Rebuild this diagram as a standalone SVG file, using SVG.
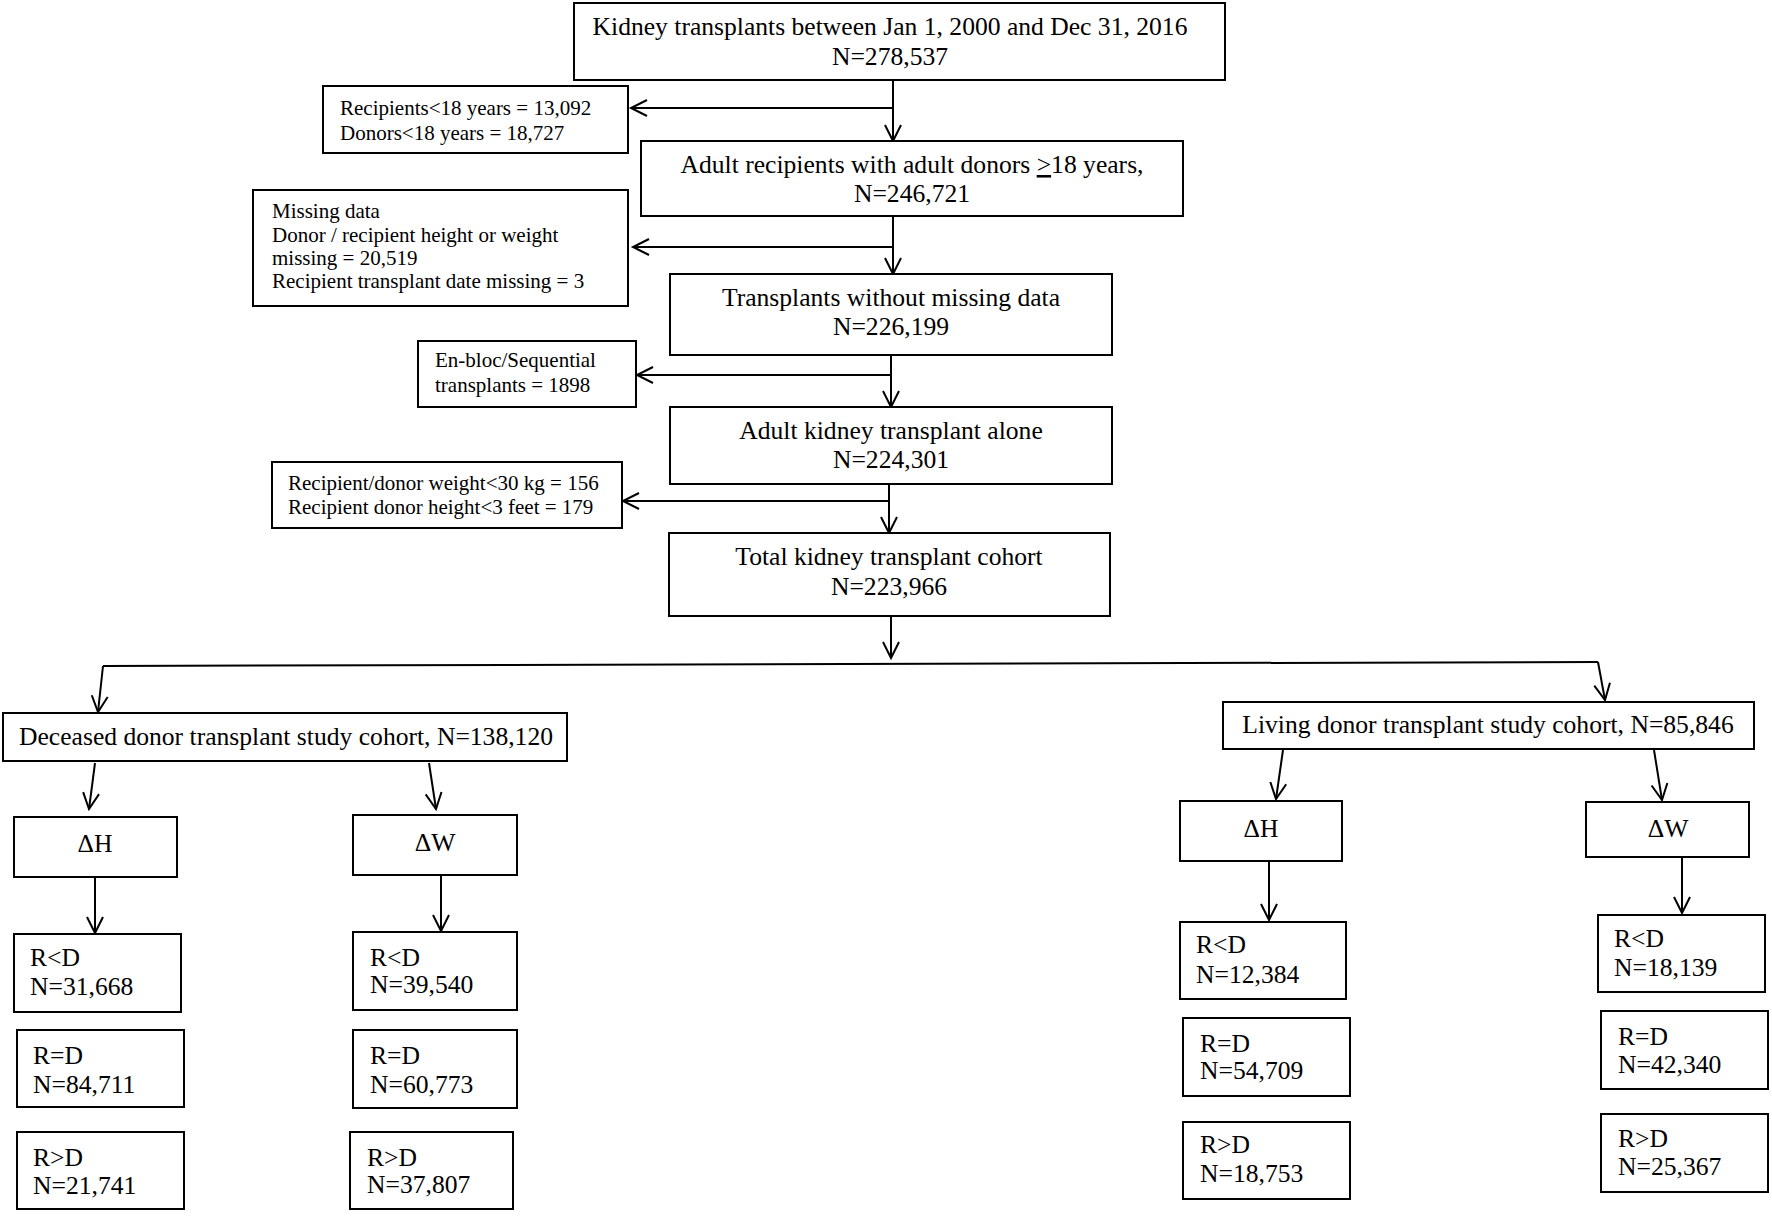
<svg xmlns="http://www.w3.org/2000/svg" width="1772" height="1217" viewBox="0 0 1772 1217">
<defs>
<marker id="ah" markerUnits="userSpaceOnUse" markerWidth="24" markerHeight="24" viewBox="-20 -12 24 24" refX="0" refY="0" orient="auto">
<path d="M-16,-8 L0,0 L-16,8" fill="none" stroke="#000" stroke-width="2"/>
</marker>
<style>
.b{fill:#fff;stroke:#000;stroke-width:2}
.t{font-family:"Liberation Serif","Times New Roman",serif;font-size:25.6px;fill:#000}
.s{font-family:"Liberation Serif","Times New Roman",serif;font-size:21px;fill:#000}
.m{text-anchor:middle}
.c{fill:none;stroke:#000;stroke-width:2}
.a{marker-end:url(#ah)}
</style>
</defs>
<rect width="1772" height="1217" fill="#fff"/>
<g id="connectors">
<path class="c a" d="M893,80 L893,141"/>
<path class="c a" d="M893,108 L631,108"/>
<path class="c a" d="M893,216 L893,274"/>
<path class="c a" d="M893,247 L633,247"/>
<path class="c a" d="M891,355 L891,407"/>
<path class="c a" d="M891,375 L637,375"/>
<path class="c a" d="M889,484 L889,533"/>
<path class="c a" d="M889,501 L623,501"/>
<path class="c a" d="M891,616 L891,658"/>
<path class="c" d="M103,666 L1598,662"/>
<path class="c a" d="M103,666 L98,712"/>
<path class="c a" d="M1598,662 L1605,700"/>
<path class="c a" d="M95,763 L89,809"/>
<path class="c a" d="M429,763 L436,809"/>
<path class="c a" d="M95,877 L95,933"/>
<path class="c a" d="M441,875 L441,931"/>
<path class="c a" d="M1283,750 L1276,799"/>
<path class="c a" d="M1654,750 L1662,800"/>
<path class="c a" d="M1269,861 L1269,920"/>
<path class="c a" d="M1682,857 L1682,913"/>
</g>
<g id="n1"><rect class="b" x="574" y="3" width="651" height="77"/>
<text class="t m" x="890" y="35">Kidney transplants between Jan 1, 2000 and Dec 31, 2016</text>
<text class="t m" x="890" y="65">N=278,537</text></g>
<g id="ex1"><rect class="b" x="323" y="86" width="305" height="67"/>
<text class="s" x="340" y="115">Recipients&lt;18 years = 13,092</text>
<text class="s" x="340" y="140">Donors&lt;18 years = 18,727</text></g>
<g id="n2"><rect class="b" x="641" y="141" width="542" height="75"/>
<text class="t m" x="912" y="173">Adult recipients with adult donors <tspan text-decoration="underline">&gt;</tspan>18 years,</text>
<text class="t m" x="912" y="202">N=246,721</text></g>
<g id="ex2"><rect class="b" x="253" y="190" width="375" height="116"/>
<text class="s" x="272" y="218">Missing data</text>
<text class="s" x="272" y="242">Donor / recipient height or weight</text>
<text class="s" x="272" y="265">missing = 20,519</text>
<text class="s" x="272" y="288">Recipient transplant date missing = 3</text></g>
<g id="n3"><rect class="b" x="670" y="274" width="442" height="81"/>
<text class="t m" x="891" y="306">Transplants without missing data</text>
<text class="t m" x="891" y="335">N=226,199</text></g>
<g id="ex3"><rect class="b" x="418" y="341" width="218" height="66"/>
<text class="s" x="435" y="367">En-bloc/Sequential</text>
<text class="s" x="435" y="392">transplants = 1898</text></g>
<g id="n4"><rect class="b" x="670" y="407" width="442" height="77"/>
<text class="t m" x="891" y="439">Adult kidney transplant alone</text>
<text class="t m" x="891" y="468">N=224,301</text></g>
<g id="ex4"><rect class="b" x="272" y="462" width="350" height="66"/>
<text class="s" x="288" y="490">Recipient/donor weight&lt;30 kg = 156</text>
<text class="s" x="288" y="514">Recipient donor height&lt;3 feet = 179</text></g>
<g id="n5"><rect class="b" x="669" y="533" width="441" height="83"/>
<text class="t m" x="889" y="565">Total kidney transplant cohort</text>
<text class="t m" x="889" y="595">N=223,966</text></g>
<g id="dec"><rect class="b" x="3" y="713" width="564" height="48"/>
<text class="t" x="19" y="745">Deceased donor transplant study cohort, N=138,120</text></g>
<g id="liv"><rect class="b" x="1223" y="702" width="531" height="47"/>
<text class="t m" x="1488" y="733">Living donor transplant study cohort, N=85,846</text></g>
<g id="dH"><rect class="b" x="14" y="817" width="163" height="60"/><text class="t m" x="95" y="852">ΔH</text></g>
<g id="dW"><rect class="b" x="353" y="815" width="164" height="60"/><text class="t m" x="435" y="851">ΔW</text></g>
<g id="lH"><rect class="b" x="1180" y="801" width="162" height="60"/><text class="t m" x="1261" y="837">ΔH</text></g>
<g id="lW"><rect class="b" x="1586" y="802" width="163" height="55"/><text class="t m" x="1668" y="837">ΔW</text></g>
<g id="dH1"><rect class="b" x="14" y="934" width="167" height="78"/><text class="t" x="30" y="966">R&lt;D</text><text class="t" x="30" y="995">N=31,668</text></g>
<g id="dH2"><rect class="b" x="17" y="1030" width="167" height="77"/><text class="t" x="33" y="1064">R=D</text><text class="t" x="33" y="1093">N=84,711</text></g>
<g id="dH3"><rect class="b" x="17" y="1132" width="167" height="77"/><text class="t" x="33" y="1166">R&gt;D</text><text class="t" x="33" y="1194">N=21,741</text></g>
<g id="dW1"><rect class="b" x="353" y="932" width="164" height="78"/><text class="t" x="370" y="966">R&lt;D</text><text class="t" x="370" y="993">N=39,540</text></g>
<g id="dW2"><rect class="b" x="353" y="1030" width="164" height="78"/><text class="t" x="370" y="1064">R=D</text><text class="t" x="370" y="1093">N=60,773</text></g>
<g id="dW3"><rect class="b" x="350" y="1132" width="163" height="77"/><text class="t" x="367" y="1166">R&gt;D</text><text class="t" x="367" y="1193">N=37,807</text></g>
<g id="lH1"><rect class="b" x="1180" y="922" width="166" height="77"/><text class="t" x="1196" y="953">R&lt;D</text><text class="t" x="1196" y="983">N=12,384</text></g>
<g id="lH2"><rect class="b" x="1183" y="1018" width="167" height="78"/><text class="t" x="1200" y="1052">R=D</text><text class="t" x="1200" y="1079">N=54,709</text></g>
<g id="lH3"><rect class="b" x="1183" y="1122" width="167" height="77"/><text class="t" x="1200" y="1153">R&gt;D</text><text class="t" x="1200" y="1182">N=18,753</text></g>
<g id="lW1"><rect class="b" x="1598" y="915" width="167" height="77"/><text class="t" x="1614" y="947">R&lt;D</text><text class="t" x="1614" y="976">N=18,139</text></g>
<g id="lW2"><rect class="b" x="1601" y="1011" width="167" height="78"/><text class="t" x="1618" y="1045">R=D</text><text class="t" x="1618" y="1073">N=42,340</text></g>
<g id="lW3"><rect class="b" x="1601" y="1114" width="167" height="78"/><text class="t" x="1618" y="1147">R&gt;D</text><text class="t" x="1618" y="1175">N=25,367</text></g>
</svg>
